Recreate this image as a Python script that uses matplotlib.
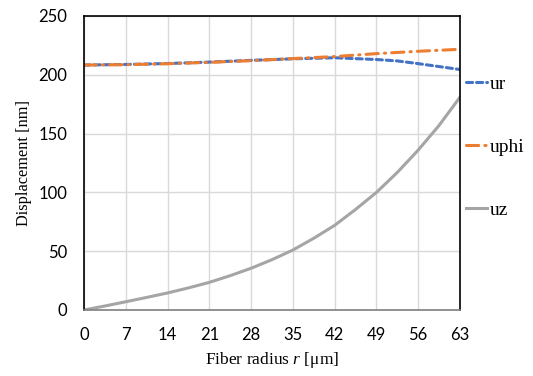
import numpy as np
import matplotlib
matplotlib.use('Agg')
import matplotlib.pyplot as plt

plt.rcParams['mathtext.fontset'] = 'custom'
plt.rcParams['mathtext.it'] = 'Liberation Serif:italic'
plt.rcParams['mathtext.rm'] = 'Liberation Serif'

# radius positions [um]
r_ur = [0, 7, 14, 21, 28, 35, 42, 49, 52.5, 56, 59.5, 63]
ur = [208.3, 208.8, 209.6, 210.8, 212.3, 213.6, 214.5, 213.0, 211.8, 209.5, 207.0, 204.5]

r_uphi = [0, 7, 14, 21, 28, 35, 42, 49, 56, 63]
uphi = [208.3, 208.6, 209.4, 210.6, 212.0, 213.8, 215.5, 218.0, 220.0, 221.7]

r_uz = [0, 3.5, 7, 10.5, 14, 17.5, 21, 24.5, 28, 31.5, 35, 38.5, 42, 45.5, 49, 52.5, 56, 59.5, 63]
uz = [0, 3.4, 7, 10.7, 14.5, 18.8, 23.5, 29.2, 35.5, 42.8, 51, 61, 72, 85.5, 100, 117, 136, 157, 181]

xticks = [0, 7, 14, 21, 28, 35, 42, 49, 56, 63]
yticks = [0, 50, 100, 150, 200, 250]

serif = 'Liberation Serif'
sans = 'Lato'

fig = plt.figure(figsize=(5.33, 3.76), dpi=100)
ax = fig.add_axes([84/533, 66/376, 376/533, 294/376])

l1, = ax.plot(r_ur, ur, color='#4472C4', lw=2.2, ls=(0, (2.0, 1.3)), dash_capstyle='round', label='ur')
l2, = ax.plot(r_uphi, uphi, color='#ED7D31', lw=2.2, ls=(0, (4, 2, 0.4, 2)), dash_capstyle='round', label='uphi')
l3, = ax.plot(r_uz, uz, color='#A5A5A5', lw=2.2, label='uz')

ax.set_xlim(0, 63)
ax.set_ylim(0, 250)
ax.set_xticks(xticks)
ax.set_yticks(yticks)
ax.grid(True, color='#D9D9D9', lw=1)
ax.set_axisbelow(True)
ax.tick_params(length=0, pad=12, labelsize=12)
for lab in ax.get_xticklabels() + ax.get_yticklabels():
    lab.set_fontfamily(sans)
for s in ax.spines.values():
    s.set_color('black')
    s.set_linewidth(1.2)
ax.spines['bottom'].set_color('#7F7F7F')

ax.set_xlabel('Fiber radius $\\mathit{r}$ [\u03bcm]', fontfamily=serif, fontsize=12.5, labelpad=5)
ax.set_ylabel('Displacement [nm]', fontfamily=serif, fontsize=11.8, labelpad=5)

fig.legend(handles=[l1, l2, l3], loc='upper left', bbox_to_anchor=(466/533, 1 - 75/376),
           frameon=False, prop={'family': serif, 'size': 14}, handlelength=1.1,
           handletextpad=0.1, labelspacing=2.35, borderpad=0, borderaxespad=0)

fig.savefig('out.png', dpi=100)
